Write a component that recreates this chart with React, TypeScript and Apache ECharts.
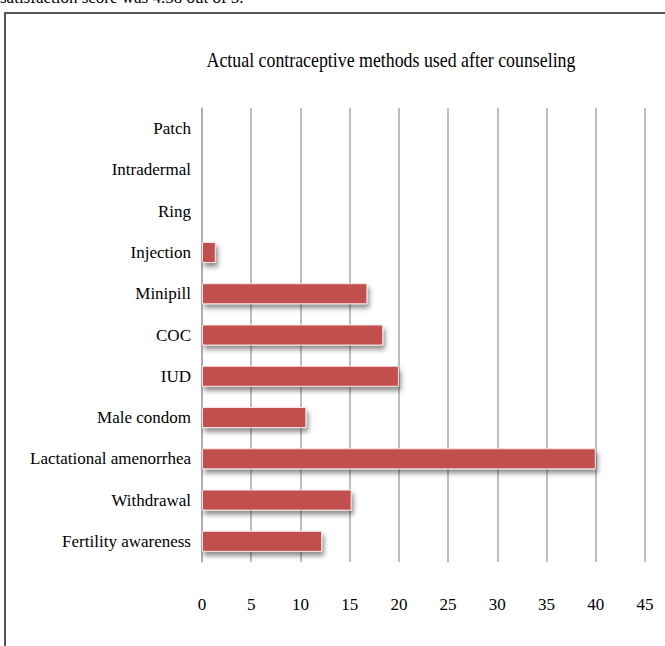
import React, { useEffect, useRef } from "react";
import * as echarts from "echarts";

const categories = [
  "Patch",
  "Intradermal",
  "Ring",
  "Injection",
  "Minipill",
  "COC",
  "IUD",
  "Male condom",
  "Lactational amenorrhea",
  "Withdrawal",
  "Fertility awareness",
];
const values = [0, 0, 0, 1.4, 16.8, 18.4, 20, 10.6, 40, 15.2, 12.2];
const xTicks = { min: 0, max: 45, interval: 5 };
const titleText = "Actual contraceptive methods used after counseling";
const aboveText = "satisfaction score was 4.58 out of 5.";

const FONT = "'Liberation Serif', 'Times New Roman', serif";

export default function App() {
  const ref = useRef<HTMLDivElement>(null);
  useEffect(() => {
    if (!ref.current) return;
    const chart = echarts.init(ref.current, undefined, { renderer: "svg" });
    chart.setOption({
      animation: false,
      backgroundColor: "#ffffff",
      grid: { left: 202, right: 20, top: 108, bottom: 84 },
      xAxis: {
        type: "value",
        min: xTicks.min,
        max: xTicks.max,
        interval: xTicks.interval,
        axisLine: { show: false },
        axisTick: { show: false },
        axisLabel: {
          margin: 34,
          color: "#000",
          fontFamily: FONT,
          fontSize: 17,
        },
        splitLine: { show: true, lineStyle: { color: "#a8a8a8", width: 1.5 } },
      },
      yAxis: {
        type: "category",
        data: categories,
        inverse: true,
        axisLine: { show: true, lineStyle: { color: "#a8a8a8", width: 1.5 } },
        axisTick: { show: false },
        axisLabel: {
          margin: 11,
          color: "#000",
          fontFamily: FONT,
          fontSize: 17,
        },
        splitLine: { show: false },
      },
      series: [
        {
          type: "bar",
          data: values,
          barWidth: 21,
          itemStyle: {
            color: "#C0504D",
            borderColor: "rgba(255,235,235,0.9)",
            borderWidth: 1,
            shadowColor: "rgba(0,0,0,0.45)",
            shadowBlur: 5,
            shadowOffsetX: 2,
            shadowOffsetY: 4,
          },
        },
      ],
      graphic: [
        {
          type: "text",
          x: 0,
          y: -11,
          style: {
            text: aboveText,
            font: `17px ${FONT}`,
            fill: "#000",
          },
        },
        {
          type: "polyline",
          shape: { points: [[5, 646], [5, 13], [665, 13]] },
          style: { stroke: "#555", lineWidth: 2, fill: null },
        },
        {
          type: "text",
          x: 391,
          y: 60,
          scaleX: 0.85,
          style: {
            text: titleText,
            font: `21px ${FONT}`,
            fill: "#000",
            textAlign: "center",
            textVerticalAlign: "middle",
          },
        },
      ],
    });
    return () => chart.dispose();
  }, []);
  return (
    <div
      ref={ref}
      style={{ position: "fixed", left: 0, top: 0, width: 665, height: 646 }}
    />
  );
}
